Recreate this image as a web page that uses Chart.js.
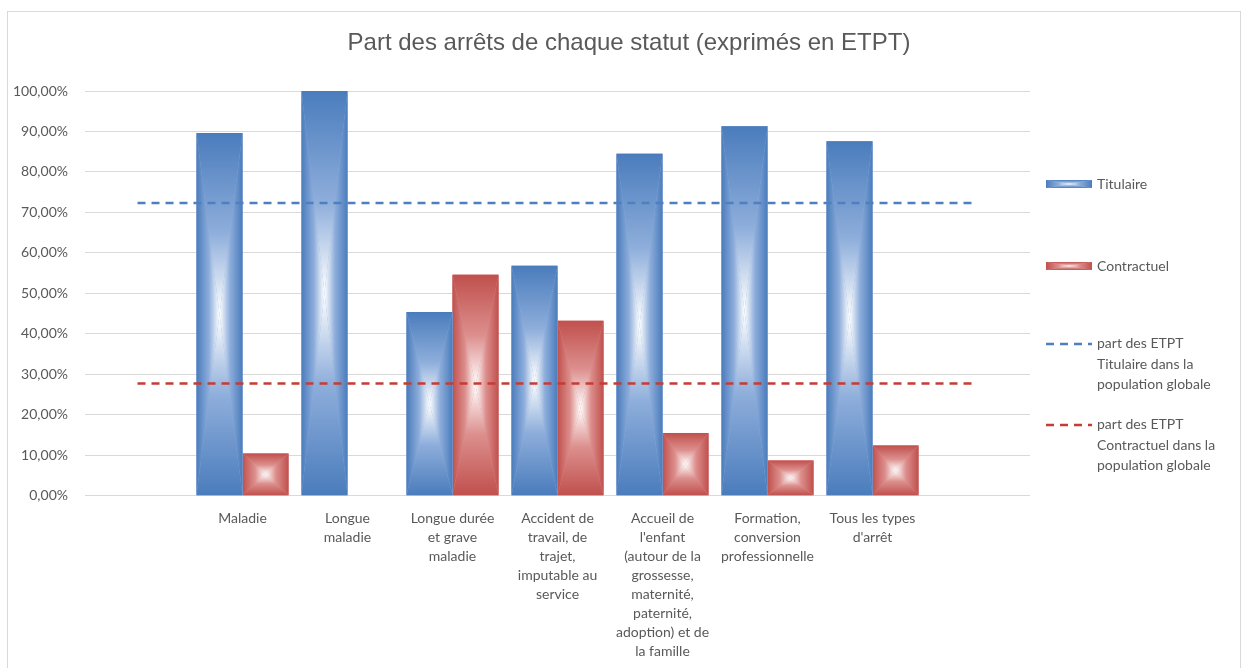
<!DOCTYPE html>
<html lang="fr">
<head>
<meta charset="utf-8">
<title>Part des arrêts de chaque statut</title>
<script src="https://cdn.jsdelivr.net/npm/chart.js@4"></script>
<style>
  html, body { margin: 0; padding: 0; background: #fff; overflow: hidden; }
  #frame {
    position: absolute; left: 7px; top: 11px;
    width: 1232px; height: 700px;
    border: 1px solid #d9d9d9;
  }
  #chart { display: block; }
  #title {
    position: absolute; left: 5px; top: 28px; width: 1248px; text-align: center;
    font-family: "Liberation Sans", Arial, sans-serif; font-size: 24px; color: #595959;
  }
  .leg {
    position: absolute; font-family: Lato, "Open Sans", sans-serif;
    font-size: 14px; line-height: 20.5px; color: #595959;
  }
  .leg canvas, .leg svg { position: absolute; left: 0; }
  .leg span { position: absolute; left: 51px; white-space: nowrap; }
</style>
</head>
<body>
<div id="frame"><canvas id="chart" width="1232" height="700"></canvas></div>
<div id="title">Part des arrêts de chaque statut (exprimés en ETPT)</div>

<div class="leg" style="left:1046px;top:174px">
  <canvas id="swTit" width="46" height="8" style="top:6px"></canvas>
  <span style="top:0">Titulaire</span>
</div>
<div class="leg" style="left:1046px;top:256px">
  <canvas id="swCon" width="46" height="8" style="top:6px"></canvas>
  <span style="top:0">Contractuel</span>
</div>
<div class="leg" style="left:1046px;top:333px">
  <svg width="46" height="4" style="top:9px"><line x1="0" y1="2" x2="46" y2="2" stroke="#4f7fc0" stroke-width="2.5" stroke-dasharray="8 6"/></svg>
  <span style="top:0">part des ETPT<br>Titulaire dans la<br>population globale</span>
</div>
<div class="leg" style="left:1046px;top:414px">
  <svg width="46" height="4" style="top:9px"><line x1="0" y1="2" x2="46" y2="2" stroke="#c63b35" stroke-width="2.5" stroke-dasharray="8 6"/></svg>
  <span style="top:0">part des ETPT<br>Contractuel dans la<br>population globale</span>
</div>

<script>
// categories (blank slots at both ends so the reference lines run past the bars)
const categories = [
  '',
  'Maladie',
  ['Longue', 'maladie'],
  ['Longue durée', 'et grave', 'maladie'],
  ['Accident de', 'travail, de', 'trajet,', 'imputable au', 'service'],
  ['Accueil de', "l'enfant", '(autour de la', 'grossesse,', 'maternité,', 'paternité,', 'adoption) et de', 'la famille'],
  ['Formation,', 'conversion', 'professionnelle'],
  ['Tous les types', "d'arrêt"],
  ''
];

// share of each status, in %
const titulaire   = [null, 89.6, 100.0, 45.4, 56.8, 84.5, 91.3, 87.6, null];
const contractuel = [null, 10.4, 0.0, 54.6, 43.2, 15.5, 8.7, 12.4, null];

// share of ETPT in the whole population (constant reference lines)
const partTitulaire   = [72.3, 72.3, 72.3, 72.3, 72.3, 72.3, 72.3, 72.3, 72.3];
const partContractuel = [27.7, 27.7, 27.7, 27.7, 27.7, 27.7, 27.7, 27.7, 27.7];

const yTicks = { min: 0, max: 100, step: 10 };

const BLUE = ['#4a7cbc', '#8eaedb', '#ffffff'];
const RED  = ['#c0504d', '#dc8f8d', '#ffffff'];

// "from centre" rectangle gradient, drawn as four triangles
function fillRectGradient(ctx, l, t, r, b, stops) {
  const cx = (l + r) / 2, cy = (t + b) / 2;
  const tris = [
    [[l, t], [r, t], [cx, t]],
    [[l, b], [r, b], [cx, b]],
    [[l, t], [l, b], [l, cy]],
    [[r, t], [r, b], [r, cy]]
  ];
  ctx.fillStyle = stops[1];
  ctx.fillRect(l, t, r - l, b - t);
  tris.forEach(([p1, p2, from]) => {
    const g = ctx.createLinearGradient(from[0], from[1], cx, cy);
    g.addColorStop(0, stops[0]);
    g.addColorStop(0.55, stops[1]);
    g.addColorStop(1, stops[2]);
    ctx.beginPath();
    ctx.moveTo(p1[0], p1[1]);
    ctx.lineTo(p2[0], p2[1]);
    ctx.lineTo(cx, cy);
    ctx.closePath();
    ctx.fillStyle = g;
    ctx.fill();
  });
}

const rectGradient = {
  id: 'rectGradient',
  afterDatasetDraw(chart, args) {
    if (args.meta.type !== 'bar') return;
    const stops = chart.data.datasets[args.index].gradientStops;
    const ctx = chart.ctx;
    ctx.save();
    args.meta.data.forEach((bar, i) => {
      if (chart.data.datasets[args.index].data[i] == null) return;
      const { x, y, base, width } = bar.getProps(['x', 'y', 'base', 'width'], true);
      const top = Math.min(y, base), bottom = Math.max(y, base);
      if (bottom - top < 1) return;
      fillRectGradient(ctx, x - width / 2, top, x + width / 2, bottom, stops);
    });
    ctx.restore();
  }
};

function swatch(id, stops) {
  const c = document.getElementById(id);
  fillRectGradient(c.getContext('2d'), 0, 0, c.width, c.height, stops);
}
swatch('swTit', BLUE);
swatch('swCon', RED);

const tickFont = { family: 'Lato, "Open Sans", sans-serif', size: 14, lineHeight: 1.36 };

new Chart(document.getElementById('chart'), {
  type: 'bar',
  data: {
    labels: categories,
    datasets: [
      {
        label: 'Titulaire',
        data: titulaire,
        backgroundColor: BLUE[1],
        gradientStops: BLUE,
        order: 2
      },
      {
        label: 'Contractuel',
        data: contractuel,
        backgroundColor: RED[1],
        gradientStops: RED,
        order: 2
      },
      {
        type: 'line',
        label: 'part des ETPT Titulaire dans la population globale',
        data: partTitulaire,
        borderColor: '#4f7fc0',
        borderWidth: 2.5,
        borderDash: [8, 6],
        pointRadius: 0,
        fill: false,
        order: 1
      },
      {
        type: 'line',
        label: 'part des ETPT Contractuel dans la population globale',
        data: partContractuel,
        borderColor: '#c63b35',
        borderWidth: 2.5,
        borderDash: [8, 6],
        pointRadius: 0,
        fill: false,
        order: 1
      }
    ]
  },
  options: {
    responsive: false,
    animation: false,
    layout: { padding: { left: 0, right: 210, top: 79, bottom: 38 } },
    categoryPercentage: 0.876,
    barPercentage: 1.0,
    plugins: {
      legend: { display: false },
      tooltip: { enabled: false },
      title: { display: false }
    },
    scales: {
      x: {
        grid: { display: false, drawTicks: false },
        border: { display: false },
        ticks: { color: '#595959', font: tickFont, padding: 13, maxRotation: 0, autoSkip: false }
      },
      y: {
        min: yTicks.min,
        max: yTicks.max,
        afterFit(scale) { scale.width = 77; },
        grid: { color: '#d9d9d9', drawTicks: false },
        border: { display: false },
        ticks: {
          stepSize: yTicks.step,
          color: '#595959',
          font: tickFont,
          padding: 17,
          callback: v => v.toFixed(2).replace('.', ',') + '%'
        }
      }
    }
  },
  plugins: [rectGradient]
});
</script>
</body>
</html>
